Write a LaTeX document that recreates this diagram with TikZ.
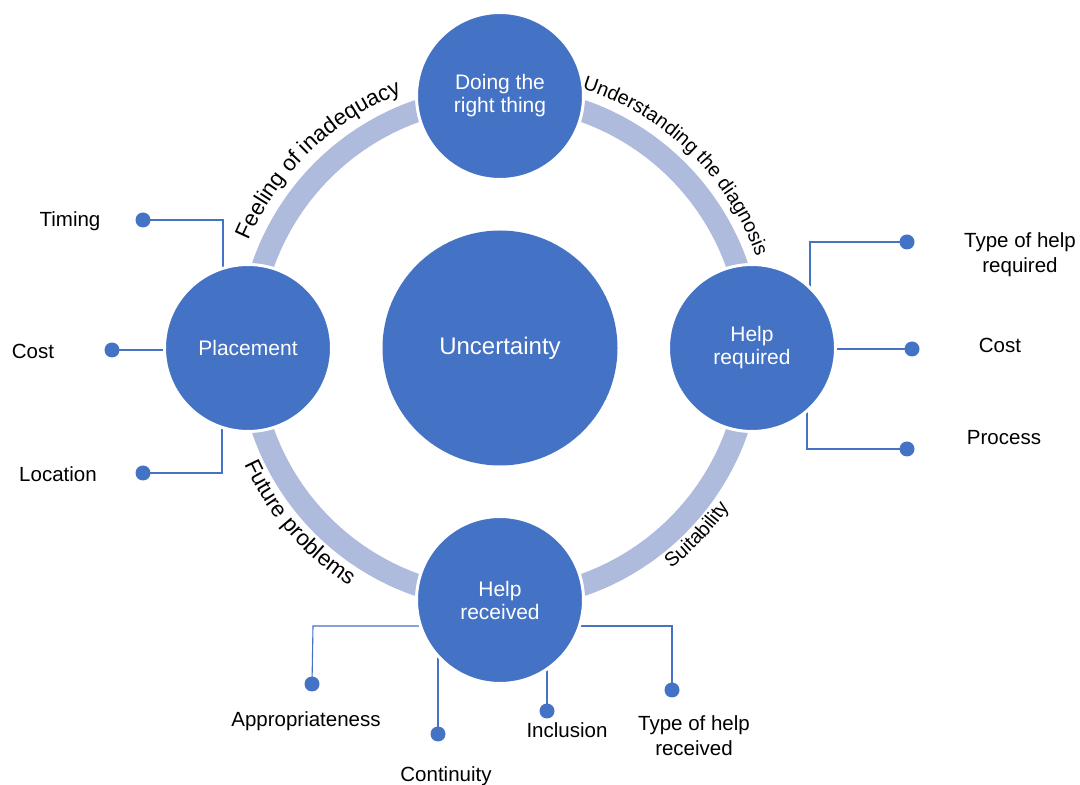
\documentclass[tikz,border=0pt]{standalone}
\usepackage{fontspec}
\setmainfont{Liberation Sans}
\usetikzlibrary{decorations.text,backgrounds}
\definecolor{cblue}{RGB}{68,114,196}
\definecolor{cband}{RGB}{174,187,221}
\newcommand\lblfont{\fontsize{20.5}{25}\selectfont}
\newcommand\hubfont{\fontsize{21}{23}\selectfont}
\newcommand\arcbig{\fontsize{22.3}{22}\selectfont}
\newcommand\arcsmall{\fontsize{19.8}{20}\selectfont}
\begin{document}
\begin{tikzpicture}[x=1pt,y=1pt,
  hub/.style={circle, fill=cblue, draw=white, line width=3pt, minimum size=167pt, inner sep=0pt, text=white, align=center, font=\hubfont},
  core/.style={circle, fill=cblue, minimum size=235pt, inner sep=0pt, text=white, font=\fontsize{24}{28}\selectfont},
  link/.style={draw=cblue, line width=1.1pt},
  dot/.style={circle, fill=cblue, minimum size=15pt, inner sep=0pt},
  lbl/.style={font=\lblfont, align=center, text=black, inner sep=0pt},
  band/.style={draw=cband, line width=22pt},
]
\useasboundingbox (0,0) rectangle (1080,785);
\coordinate (O) at (500,437);

% hubs
\node[core] (C) at (O) {Uncertainty};
\node[hub] (T) at (500,689) {Doing the\\right thing};
\node[hub] (L) at (248,437) {Placement};
\node[hub] (R) at (752,437) {Help\\required};
\node[hub] (B) at (500,185) {Help\\received};

% dots
\node[dot] (d1) at (143,565) {};
\node[dot] (d2) at (112,435) {};
\node[dot] (d3) at (143,312) {};
\node[dot] (d4) at (907,543) {};
\node[dot] (d5) at (912,436) {};
\node[dot] (d6) at (907,336) {};
\node[dot] (d7) at (312,101) {};
\node[dot] (d8) at (438,51) {};
\node[dot] (d9) at (547,74) {};
\node[dot] (d10) at (672,95) {};

% corner points
\coordinate (k1) at (223,565);
\coordinate (k3) at (222,312);
\coordinate (k4) at (810,543);
\coordinate (k6) at (807,336);
\coordinate (k7) at (313,159);
\coordinate (k10) at (672,159);

% labels
\node[lbl, anchor=base] (t1) at (70,558) {Timing};
\node[lbl, anchor=base] (t2) at (33,426) {Cost};
\node[lbl, anchor=base] (t3) at (58,303) {Location};
\node[lbl, anchor=center] (t4) at (1020,530) {Type of help\\required};
\node[lbl, anchor=base] (t5) at (1000,432) {Cost};
\node[lbl, anchor=base] (t6) at (1004,340) {Process};
\node[lbl, anchor=base] (t7) at (306,58) {Appropriateness};
\node[lbl, anchor=base] (t8) at (446,3) {Continuity};
\node[lbl, anchor=base] (t9) at (567,47) {Inclusion};
\node[lbl, anchor=center] (t10) at (694,49) {Type of help\\received};

\begin{scope}[on background layer]
  \draw[band] (O) circle[radius=251pt];
  \draw[link] (d1.center) -- (k1) -- (k1 |- L.center);
  \draw[link] (d2.center) -- (d2.center -| L.center);
  \draw[link] (d3.center) -- (k3) -- (k3 |- L.center);
  \draw[link] (d4.center) -- (k4) -- (k4 |- R.center);
  \draw[link] (d5.center) -- (d5.center -| R.center);
  \draw[link] (d6.center) -- (k6) -- (k6 |- R.center);
  \draw[link] (d7.center) -- (k7) -- (k7 -| B.center);
  \draw[link] (d8.center) -- (d8.center |- B.center);
  \draw[link] (d9.center) -- (d9.center |- B.center);
  \draw[link] (d10.center) -- (k10) -- (k10 -| B.center);
\end{scope}

% curved labels
\path[decorate, decoration={text along path, text align=center, text={|\arcbig|Feeling of inadequacy}}]
  ([shift={(190:273pt)}]O) arc[start angle=190, end angle=78, radius=273pt];
\path[decorate, decoration={text along path, text align=center, text={|\arcsmall|Understanding the diagnosis}}]
  ([shift={(101:272pt)}]O) arc[start angle=101, end angle=-9, radius=272pt];
\path[decorate, decoration={text along path, text align=center, text={|\arcbig|Future problems}}]
  ([shift={(171:281pt)}]O) arc[start angle=171, end angle=271, radius=281pt];
\path[decorate, decoration={text along path, text align=center, text={|\arcsmall|Suitability}}]
  ([shift={(266.5:279pt)}]O) arc[start angle=266.5, end angle=366.5, radius=279pt];
\end{tikzpicture}
\end{document}
